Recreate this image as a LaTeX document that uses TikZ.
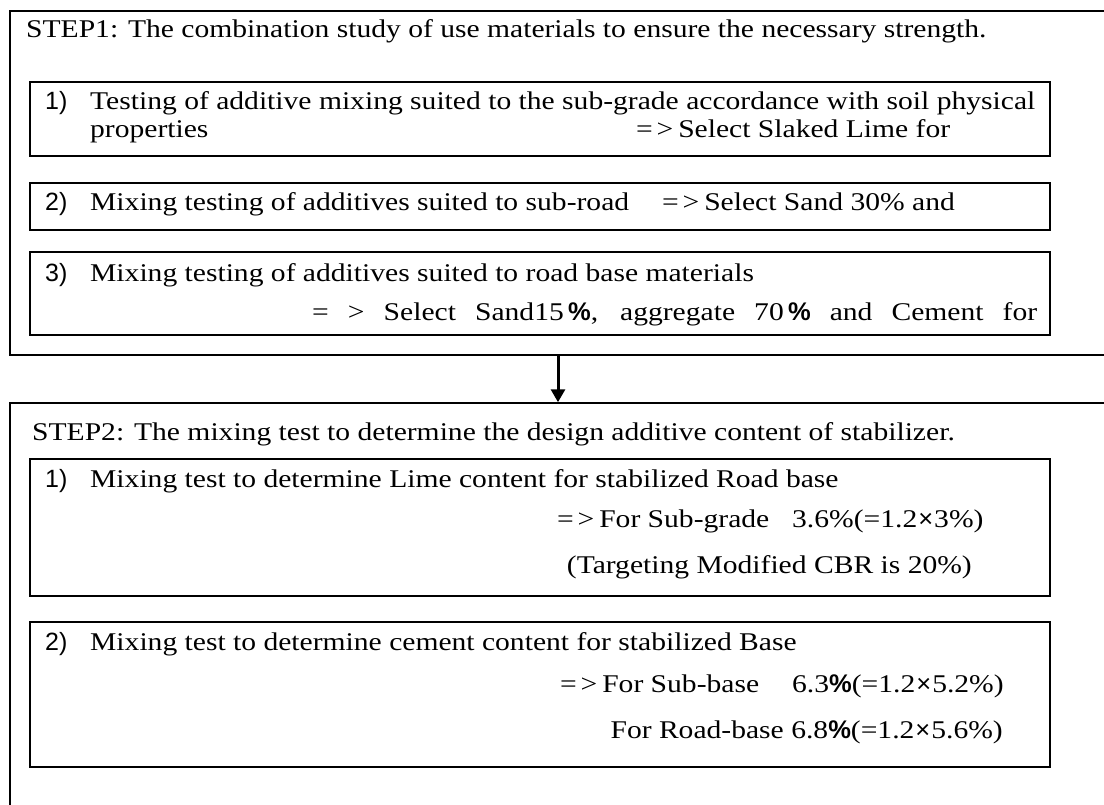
\documentclass[tikz,border=0pt]{standalone}
\usepackage{fontspec}
\setmainfont{Liberation Serif}[FakeStretch=1.16]
\newfontfamily\numfont{Liberation Sans}
\usetikzlibrary{arrows.meta}
\newcommand{\TX}{90}
\newcommand{\NX}{45}
\newcommand{\sel}{\makebox[0.8em][l]{=}\makebox[0.85em][l]{>}}
\newcommand{\pct}{{\numfont\bfseries\%}}
\newcommand{\tms}{{\numfont\kern1pt×\kern1pt}}

\begin{document}
\begin{tikzpicture}[x=1pt, y=-1pt,
    outer/.style={draw=black, line width=1.5pt, minimum width=1096pt, inner sep=0pt},
    inner/.style={draw=black, line width=1.2pt, minimum width=1020pt, inner sep=0pt},
    txt/.style={anchor=base west, inner sep=0pt, font=\fontsize{25.5}{30}\selectfont},
    num/.style={anchor=base west, inner sep=0pt, font=\numfont\fontsize{25}{30}\selectfont},
    head/.style={anchor=base west, inner sep=0pt, font=\fontsize{25.5}{30}\selectfont},
  ]
  \useasboundingbox (0,0) rectangle (1104,805);
  \clip (0,0) rectangle (1104,805);

  % the two steps, cut off at the right and at the bottom
  \node[outer, minimum height=344pt] (step1) at (558,183) {};
  \node[outer, minimum height=410pt] (step2) at (558,608) {};
  \draw[line width=3pt, -{Triangle[length=13pt, width=14pt]}] (step1.south) -- (step2.north);

  % step 1
  \node[head] (h1) at (26,38) {STEP1: The combination study of use materials to ensure the necessary strength.};

  \node[inner, minimum height=74pt] (b11) at (540,119) {};
  \node[num] (n11) at (\NX,110) {1)};
  \node[txt] (t11) at (\TX,110) {Testing of additive mixing suited to the sub-grade accordance with soil physical};
  \node[txt] (t11b) at (\TX,138) {properties};
  \node[txt] (r11) at (636,138) {\sel Select Slaked Lime for};

  \node[inner, minimum height=47pt] (b12) at (540,206.5) {};
  \node[num] (n12) at (\NX,211) {2)};
  \node[txt] (t12) at (\TX,211) {Mixing testing of additives suited to sub-road};
  \node[txt] (r12) at (662,211) {\sel Select Sand 30\% and};

  \node[inner, minimum height=83pt] (b13) at (540,293.5) {};
  \node[num] (n13) at (\NX,282) {3)};
  \node[txt] (t13) at (\TX,282) {Mixing testing of additives suited to road base materials};
  \node[txt] (r13) at (312,320) {\makebox[725pt][s]{= > Select Sand15\,\pct, aggregate 70\,\pct{} and Cement for}};

  % step 2
  \node[head] (h2) at (32,440) {STEP2: The mixing test to determine the design additive content of stabilizer.};

  \node[inner, minimum height=137pt] (b21) at (540,527.5) {};
  \node[num] (n21) at (\NX,487) {1)};
  \node[txt] (t21) at (\TX,487) {Mixing test to determine Lime content for stabilized Road base};
  \node[txt] (r21) at (557,527) {\sel For Sub-grade};
  \node[txt] (v21) at (792,527) {3.6\%(=1.2\tms 3\%)};
  \node[txt, anchor=base east] (c21) at (972,573) {(Targeting Modified CBR is 20\%)};

  \node[inner, minimum height=145pt] (b22) at (540,694.5) {};
  \node[num] (n22) at (\NX,650) {2)};
  \node[txt] (t22) at (\TX,650) {Mixing test to determine cement content for stabilized Base};
  \node[txt] (r22) at (560,692) {\sel For Sub-base};
  \node[txt] (v22) at (792,692) {6.3\pct(=1.2\tms 5.2\%)};
  \node[txt, anchor=base east] (r22b) at (1003,738) {For Road-base 6.8\pct(=1.2\tms 5.6\%)};

\end{tikzpicture}
\end{document}
